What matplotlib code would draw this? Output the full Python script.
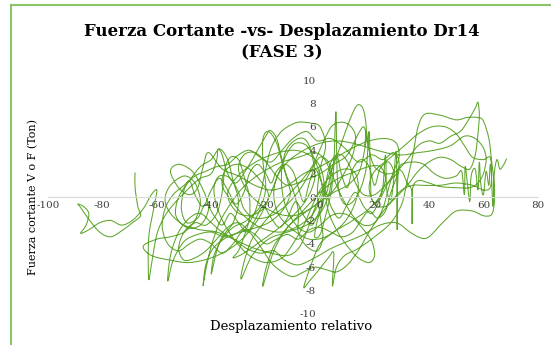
import matplotlib.pyplot as plt
from matplotlib.lines import Line2D
from matplotlib.path import Path
from matplotlib.patches import PathPatch

# lazos de histeresis, pares (desplazamiento, fuerza)
tramo_1 = [
    (-68, 2.1), (-68, 0.8), (-67, -0.8), (-66, -1.6), (-69, -2.2), (-73, -2.9), (-77, -3.4), (-81, -3.0), (-85, -1.9), (-88, -0.9),
    (-89, -0.6), (-87, -0.8), (-85, -1.4), (-86, -2.4), (-88, -3.1), (-85, -2.8), (-81, -2.2), (-77, -2.0), (-73, -2.4), (-69, -2.0),
    (-65, -1.0), (-62, 0.2), (-60, 0.6), (-61, -0.8), (-63, -3.5), (-63, -7.0), (-62, -5.8), (-60, -3.2), (-57, -1.6), (-53, -0.4),
    (-48, 0.8), (-44, 1.6), (-40, 2.0), (-38, 3.2), (-37.5, 4.1), (-36, 3.6), (-34, 2.0), (-31, 1.2), (-27, 2.4), (-23, 4.0),
    (-20, 5.2), (-18.4, 5.7), (-16, 5.0), (-14, 3.2), (-12, 1.4), (-11, 0.2), (-14, -1.2), (-19, -2.2), (-26, -2.8), (-33, -3.3),
    (-39, -4.3), (-42, -5.8), (-43, -7.6), (-42, -6.2), (-40, -4.2), (-37, -2.2), (-33, -0.6), (-28, 0.9), (-22, 2.0), (-15, 2.9),
]
tramo_2 = [
    (-8, 3.4), (-2, 3.8), (2, 3.1), (4, 1.6), (3, 0.1), (0, -1.4), (-5, -2.4), (-12, -3.0), (-19, -3.6), (-25, -5.0),
    (-29, -7.0), (-28, -5.6), (-25, -3.6), (-20, -2.0), (-14, -0.4), (-8, 1.1), (-3, 2.6), (0, 4.1), (3, 5.6), (5, 6.2),
    (8, 6.4), (11, 6.1), (13, 5.2), (12, 3.6), (9, 2.1), (5, 0.6), (0, -0.4), (-6, -1.4), (-12, -2.6), (-17, -4.6),
    (-21, -7.6), (-20, -6.2), (-17, -4.2), (-12, -2.6), (-6, -1.1), (0, 0.4), (6, 1.5), (12, 2.1), (18, 2.6), (22, 2.6),
    (24, 1.6), (22, 0.1), (18, -1.0), (12, -2.0), (5, -3.0), (0, -4.0), (-3, -5.6), (-6, -7.7), (-4, -7.2), (0, -6.1),
    (3, -5.2), (5, -4.8), (4.5, -7.6), (6, -6.0), (9, -5.0), (14, -4.4), (20, -3.4), (26, -2.2), (30, -0.6), (32, 1.4),
]
tramo_3 = [
    (34, 3.5), (36, 6.0), (38.6, 7.1), (44, 7.0), (50, 6.6), (54, 6.8), (58, 6.8), (60, 6.5), (62, 5.0), (63, 3.1),
    (64, 1.0), (64, -0.5), (63, -1.5), (60, -1.6), (56, -1.2), (50, -1.2), (45, -2.2), (40, -3.4), (37, -3.5), (33, -3.0),
    (28, -2.2), (22, -2.4), (16, -3.2), (10, -3.8), (4, -4.4), (-2, -5.2), (-8, -5.8), (-13, -5.4), (-17, -4.6), (-22, -4.8),
    (-27, -4.4), (-32, -3.6), (-38, -3.0), (-44, -2.8), (-50, -2.4), (-55, -1.4), (-57, -0.2), (-55, 1.0), (-50, 1.8), (-46, 1.2),
    (-44, -0.4), (-46, -2.0), (-50, -3.0), (-55, -3.4), (-60, -3.6), (-65, -4.2), (-62, -5.0), (-55, -5.4), (-48, -5.6), (-40, -5.2),
    (-33, -4.4), (-27, -3.2), (-22, -1.6), (-18, 0.4), (-15, 2.2), (-12, 3.8), (-9, 4.6), (-5, 4.4), (-2, 3.2), (0, 1.8),
]
tramo_4 = [
    (1, 0.4), (-1, -0.8), (-4, -1.8), (-9, -2.6), (-15, -3.0), (-22, -2.6), (-28, -1.6), (-33, -0.2), (-36, 1.0), (-35, 2.2),
    (-31, 2.8), (-26, 2.4), (-22, 1.4), (-19, 0.2), (-21, -1.0), (-26, -1.6), (-31, -1.2), (-34, 0.2), (-31, 1.6), (-25, 2.8),
    (-18, 3.6), (-10, 4.0), (-4, 3.6), (0, 2.6), (1.5, 1.0), (1, -0.6), (-1, -2.0), (-2, -3.4), (0, -3.2), (2, -1.6),
    (4, 0.4), (5, 2.6), (5.8, 7.3), (6.2, 2.4), (7, 0.4), (9, -0.6), (12, -0.4), (15, 0.8), (17, 2.6), (18, 5.6),
    (18.5, 1.4), (19, -0.2), (21, -0.4), (23, 0.8), (24, 3.6), (24.5, 0.6), (26, -0.2), (27, 1.4), (28, 3.8), (28.3, -2.8),
    (28.6, 1.8), (30, 2.2), (32, 1.2), (33.8, 0.4), (33.8, -2.3), (33.9, 0.6), (36, 1.4), (40, 1.2), (44, 0.9), (50, 0.8),
]
tramo_5 = [
    (55, 0.8), (58, 1.2), (60, 2.0), (61, 3.2), (60, 4.2), (57, 5.0), (53, 5.2), (48, 4.4), (42, 4.0), (36, 3.8),
    (30, 3.6), (24, 3.8), (18, 4.2), (12, 4.6), (6, 4.8), (0, 4.6), (-6, 4.0), (-12, 3.0), (-16, 1.6), (-17, 0.0),
    (-15, -1.6), (-10, -2.8), (-4, -3.6), (2, -3.4), (8, -2.4), (12, -1.0), (14, 0.6), (13, 2.0), (9, 2.4), (4, 1.8),
    (0, 0.6), (-3, -0.8), (-6, -2.4), (-10, -4.0), (-14, -5.2), (-20, -5.6), (-26, -5.0), (-31, -3.8), (-35, -2.4), (-38, -0.8),
    (-39, 0.8), (-37, 1.8), (-33, 1.6), (-30, 0.4), (-28, -1.0), (-24, -1.8), (-18, -1.6), (-12, -0.6), (-7, 0.8), (-3, 2.4),
    (0, 3.4), (3, 3.0), (5, 1.6), (8, 0.0), (12, -1.6), (16, -2.4), (20, -2.2), (23, -1.0), (25, 0.6), (27, 2.2),
]
tramo_7 = [
    (29, 3.4), (28, 4.6), (24, 5.0), (18, 4.8), (12, 4.2), (6, 3.4), (0, 2.6), (-6, 2.0), (-12, 1.0), (-18, 0.6),
    (-24, 1.0), (-30, 1.8), (-36, 2.4), (-41, 3.8), (-43, 2.6), (-45, 0.8), (-48, 0.2), (-52, 0.8), (-55, 2.2), (-52, 2.8),
    (-47, 2.2), (-43, 0.6), (-41, -1.0), (-44, -2.4), (-49, -2.6), (-53, -1.6), (-52, 0.0), (-48, 1.4), (-44, 2.6), (-40, 3.2),
    (-37, 4.1), (-34, 3.2), (-32, 1.4), (-30, -0.4), (-32, -2.2), (-36, -3.4), (-38, -4.6), (-40, -6.6), (-39, -5.0), (-36, -3.6),
    (-32, -2.6), (-27, -2.0), (-22, -0.8), (-20, 0.8), (-21, 3.0), (-21, 5.0), (-19, 5.6), (-16, 4.6), (-13, 2.2), (-10, 0.6),
    (-8, -1.2), (-8, -3.0), (-5, -4.2), (-1, -4.6), (1, -3.4), (0, -1.6), (-1, 0.4), (0, 2.4), (2, 4.4), (0, 6.0),
]
tramo_8 = [
    (-3, 6.3), (-8, 6.4), (-12, 6.0), (-15, 5.4), (-18, 4.2), (-20, 2.4), (-22, 0.2), (-25, -1.8), (-30, -3.0), (-35, -3.4),
    (-40, -3.0), (-45, -3.2), (-50, -3.8), (-54, -5.4), (-56, -7.2), (-55, -5.0), (-52, -3.0), (-48, -1.8), (-44, -1.4), (-40, -2.2),
    (-36, -3.0), (-30, -3.8), (-24, -4.4), (-18, -4.8), (-12, -5.0), (-8, -4.4), (-5, -3.0), (-2, -1.0), (2, 1.2), (6, 3.4),
    (9, 5.4), (12, 7.2), (14, 7.9), (16, 7.4), (17, 5.6), (16, 3.6), (14, 2.0), (10, 1.0), (5, 0.4), (0, -0.4),
    (-5, -1.2), (-10, -1.6), (-16, -1.4), (-22, -0.6), (-27, 0.6), (-30, 2.4), (-28, 3.6), (-24, 3.8), (-20, 3.0), (-16, 1.8),
    (-12, 1.0), (-6, 1.4), (0, 2.0), (5, 2.8), (10, 3.6), (14, 5.4), (16, 6.0), (17, 5.2), (16.5, 4.4), (17, 5.6),
]
tramo_9 = [
    (18, 4.0), (20, 2.6), (24, 2.0), (28, 2.2), (32, 3.2), (36, 4.4), (40, 4.8), (44, 4.6), (48, 5.2), (51.5, 5.6),
    (54, 6.4), (57, 7.6), (58, 8.1), (58.5, 7.0), (58, 5.4), (57, 3.6), (55, 2.4), (52, 2.6), (48, 3.2), (44, 3.4),
    (40, 3.0), (36, 2.2), (32, 1.0), (28, 0.0), (24, -0.8), (20, -0.6), (18, 0.8), (20, 2.2), (26, 3.4), (32, 4.6),
    (36, 5.4), (41, 6.0), (46, 6.0), (50, 5.4), (53, 4.4), (56, 3.4), (60, 3.2), (62.5, 3.4), (63, 2.0), (62.5, 0.8),
    (60, 0.6), (56, 1.0), (50, 1.2), (44, 1.0), (38, 1.0), (34, 1.0), (30, 0.6), (26, -0.4), (22, -1.6), (18, -3.0),
    (14, -4.6), (10, -5.8), (6, -6.4), (2, -6.2), (-2, -6.0), (-6, -6.4), (-10, -6.8), (-14, -6.4), (-18, -5.6), (-22, -4.2),
]
tramo_10 = [
    (-26, -3.0), (-30, -2.2), (-34, -2.6), (-38, -3.6), (-42, -4.6), (-46, -5.2), (-50, -5.4), (-52, -4.4), (-50, -3.0), (-46, -2.2),
    (-42, -2.4), (-38, -1.4), (-36, 0.4), (-35, 2.4), (-33, 3.4), (-30, 3.2), (-28, 1.8), (-26, 0.0), (-26, -1.8), (-28, -3.4),
    (-30, -4.6), (-32, -5.2), (-28, -4.8), (-22, -3.8), (-16, -2.8), (-10, -1.6), (-5, -0.2), (-2, 1.6), (-3, 3.6), (-5, 4.8),
    (-8, 5.0), (-12, 4.2), (-14, 2.6), (-14, 0.6), (-12, -1.2), (-8, -2.6), (-4, -3.0), (0, -2.4), (4, -1.6), (8, -1.4),
    (12, -1.8), (16, -2.8), (19, -3.8), (20, -5.0), (18, -5.6), (14, -5.2), (10, -4.2), (6, -2.8), (3, -1.2), (2, 0.6),
    (3, 2.2), (5, 3.4), (8, 3.6), (11, 2.6), (13, 1.2), (16, 0.2), (20, 0.2), (24, 1.0), (26, 1.6), (27, 2.2),
]
tramo_11 = [
    (25, 3.0), (22, 2.4), (20, 1.0), (18, 2.6), (15, 3.2), (12, 2.4), (10, 0.8), (8, 1.8), (6, 3.6), (4, 2.0),
    (2, 0.2), (0, 1.6), (-2, 2.4), (-4, 1.2), (-6, -0.4), (-8, 0.8), (-10, 2.2), (-13, 2.8), (-16, 2.2), (-18, 1.2),
    (-20, 2.0), (-23, 2.8), (-26, 2.0), (-28, 0.4), (-31, -0.6), (-34, 0.6), (-37, 1.6), (-40, 0.6), (-43, -0.8), (-46, 0.2),
    (-48, 1.4), (-50, 0.6), (-51, -1.0), (-49, -2.2), (-45, -1.8), (-42, -0.6), (-39, -1.6), (-36, -2.4), (-33, -1.4), (-30, -2.2),
    (-27, -3.0), (-24, -2.0), (-21, -0.8), (-18, -1.8), (-15, -2.6), (-12, -1.8), (-9, -0.4), (-6, -1.6), (-3, -2.4), (0, -1.0),
    (2, 0.4), (4, -0.8), (7, -1.8), (10, -0.6), (13, 0.4), (16, -0.8), (19, -1.4), (22, -0.2), (25, 1.2), (28, 2.0),
]
tramo_12 = [
    (29, 3.0), (27, 3.8), (23, 3.2), (19, 3.6), (14, 3.0), (9, 4.2), (4, 5.0), (-1, 4.8), (-5, 5.6), (-10, 5.0),
    (-14, 4.0), (-18, 3.0), (-22, 3.4), (-26, 4.0), (-30, 3.6), (-34, 2.8), (-38, 2.6), (-42, 2.2), (-46, 1.8), (-50, 1.0),
    (-54, 0.2), (-57, -1.0), (-58, -2.6), (-56, -4.0), (-52, -4.6), (-48, -4.0), (-44, -3.6), (-40, -4.0), (-36, -4.8), (-32, -4.0),
    (-28, -2.8), (-24, -3.2), (-20, -4.0), (-16, -3.6), (-12, -3.2), (-8, -3.6), (-4, -2.8), (0, -2.6), (4, -3.0), (8, -3.4),
    (12, -3.0), (15, -2.0), (18, -1.2), (21, -1.8), (24, -1.2), (26, 0.4), (28, 1.6), (29, 2.4),
]
tramo_6 = [
    (30, 2.8), (34, 3.0), (38, 2.8), (42, 2.0), (46, 1.6), (50, 1.8), (52, 2.2), (53, 0.2), (53.3, 2.6), (54, 1.4),
    (55, -0.4), (55.5, 1.8), (57, 2.4), (58, 0.6), (58.5, 3.0), (59, 1.2), (60, 0.2), (61, 2.2), (62, 1.0), (62.5, 2.8),
    (63, 1.6), (63.5, -0.8), (64, 2.0), (65, 3.2), (66, 2.4), (67, 2.6), (68, 3.0), (68.5, 3.3),
]

xticks = [-100, -80, -60, -40, -20, 0, 20, 40, 60, 80]
yticks = [-10, -8, -6, -4, -2, 0, 2, 4, 6, 8, 10]

puntos = (tramo_1 + tramo_2 + tramo_3 + tramo_4 + tramo_5 + tramo_7 + tramo_8
          + tramo_9 + tramo_10 + tramo_11 + tramo_12 + tramo_6)


def curva_suave(pts):
    # linea suavizada (Catmull-Rom como bezier cubica) que pasa por cada punto
    verts = [pts[0]]
    codes = [Path.MOVETO]
    n = len(pts)
    for i in range(n - 1):
        p0 = pts[max(i - 1, 0)]
        p1 = pts[i]
        p2 = pts[i + 1]
        p3 = pts[min(i + 2, n - 1)]
        c1 = (p1[0] + (p2[0] - p0[0]) / 6, p1[1] + (p2[1] - p0[1]) / 6)
        c2 = (p2[0] - (p3[0] - p1[0]) / 6, p2[1] - (p3[1] - p1[1]) / 6)
        verts += [c1, c2, p2]
        codes += [Path.CURVE4] * 3
    return Path(verts, codes)


plt.rcParams['font.family'] = ['DejaVu Serif']
plt.rcParams['axes.unicode_minus'] = False

fig = plt.figure(figsize=(5.51, 3.45), dpi=100)
ax = fig.add_axes([0.0871, 0.0899, 0.889, 0.678])

ax.add_patch(PathPatch(curva_suave(puntos), fill=False, edgecolor='#5ea62c', lw=0.75))

ax.set_xlim(-100, 80)
ax.set_ylim(-10, 10)
ax.set_xticks(xticks)
ax.set_yticks(yticks)

for s in ['top', 'right']:
    ax.spines[s].set_visible(False)
ax.spines['bottom'].set_position(('data', 0))
ax.spines['bottom'].set_color('#d9d9d9')
ax.spines['left'].set_position(('data', 0))
ax.spines['left'].set_visible(False)
ax.tick_params(length=0, labelsize=7.5, colors='#404040', pad=3)

ax.set_xlabel('Desplazamiento relativo', fontsize=9.5)
ax.xaxis.set_label_coords(0.496, -0.025)
ax.set_ylabel('Fuerza cortante V o F (Ton)', fontsize=8)
ax.yaxis.set_label_coords(-0.02, 0.5)

fig.text(0.512, 0.91, 'Fuerza Cortante -vs- Desplazamiento Dr14', ha='center', va='center',
         fontsize=12, fontweight='bold')
fig.text(0.512, 0.846, '(FASE 3)', ha='center', va='center', fontsize=12, fontweight='bold')

# marco verde del grafico
fig.add_artist(Line2D([11 / 551, 11 / 551], [0, 1 - 5 / 345], color='#8cc46a', lw=1.5))
fig.add_artist(Line2D([11 / 551, 1], [1 - 5 / 345, 1 - 5 / 345], color='#8cc46a', lw=1.5))

fig.savefig('out.png', dpi=100)
